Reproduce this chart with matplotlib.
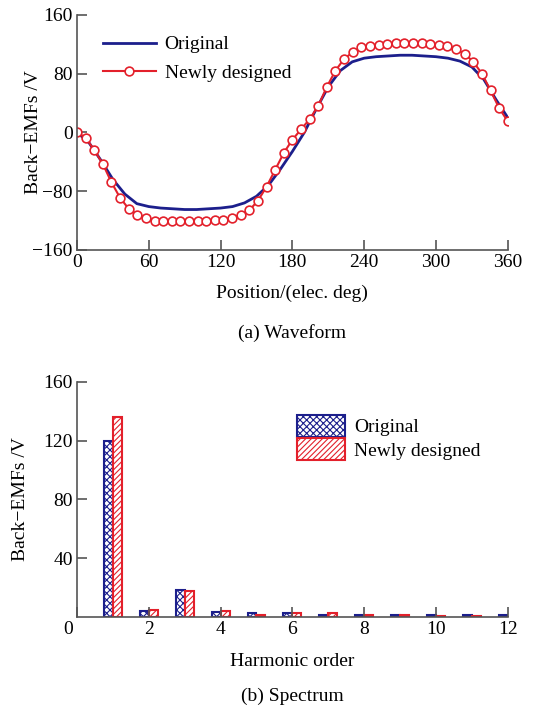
import numpy as np
import matplotlib
matplotlib.use('Agg')
from matplotlib import pyplot as plt
from matplotlib import transforms

plt.rcParams['font.family'] = ['Liberation Serif', 'DejaVu Serif']
plt.rcParams['font.size'] = 14
plt.rcParams['hatch.linewidth'] = 0.8
plt.rcParams['axes.unicode_minus'] = True

navy = '#1c1f8c'
red = '#e3202b'
axis_col = '#555555'

# waveform, original design (smooth line)
orig_pos = [0, 10, 20, 30, 40, 50, 60, 70, 80, 90, 100, 110, 120, 130, 140, 150,
            160, 170, 180, 190, 200, 210, 220, 230, 240, 250, 260, 270, 280, 290,
            300, 310, 320, 330, 340, 350, 360]
orig_emf = [0, -14, -38, -64, -84, -97, -101, -103, -104, -105, -105, -104, -103,
            -101, -96, -87, -72, -50, -26, 0, 32, 62, 84, 96, 101, 103, 104, 105,
            105, 104, 103, 101, 97, 89, 72, 45, 20]

# waveform, newly designed (markers)
new_pos = [0, 7.2, 14.4, 21.6, 28.8, 36, 43.2, 50.4, 57.6, 64.8, 72, 79.2, 86.4,
           93.6, 100.8, 108, 115.2, 122.4, 129.6, 136.8, 144, 151.2, 158.4, 165.6,
           172.8, 180, 187.2, 194.4, 201.6, 208.8, 216, 223.2, 230.4, 237.6, 244.8,
           252, 259.2, 266.4, 273.6, 280.8, 288, 295.2, 302.4, 309.6, 316.8, 324,
           331.2, 338.4, 345.6, 352.8, 360]
new_emf = [0, -7, -24, -43, -68, -89, -104, -112, -117, -120, -120, -120, -120,
           -120, -120, -120, -119, -119, -117, -112, -106, -93, -74, -51, -28, -10,
           4, 18, 36, 62, 84, 100, 109, 116, 117, 119, 120, 121, 121, 121, 121, 120,
           119, 117, 113, 107, 96, 80, 57, 33, 15]

# spectrum
orders = [1, 2, 3, 4, 5, 6, 7, 8, 9, 10, 11, 12]
spec_orig = [120, 4, 18.5, 3.5, 3, 2.5, 1.5, 1.5, 1.2, 1.2, 1.2, 1.5]
spec_new = [136, 5, 17.5, 4, 1.5, 3, 3, 1.5, 1.2, 1, 1, 0]


def style_axes(ax):
    ax.spines['top'].set_visible(False)
    ax.spines['right'].set_visible(False)
    for s in ('left', 'bottom'):
        ax.spines[s].set_color(axis_col)
        ax.spines[s].set_linewidth(1.2)
    ax.tick_params(direction='in', length=7, width=1.2, color=axis_col, pad=3)


fig = plt.figure(figsize=(5.46, 7.06), dpi=100)

# (a) waveform
ax1 = fig.add_axes([0.141, 0.646, 0.789, 0.333])
ax1.plot(orig_pos, orig_emf, color=navy, lw=2.0, label='Original')
ax1.plot(new_pos, new_emf, color=red, lw=1.5, marker='o', ms=6.3, mfc='white',
         mec=red, mew=1.2, label='Newly designed')
ax1.set_xlim(0, 360)
ax1.set_ylim(-160, 160)
ax1.set_xticks(range(0, 361, 60))
ax1.set_yticks(range(-160, 161, 80))
style_axes(ax1)
ax1.set_xlabel('Position/(elec. deg)', labelpad=10)
ax1.set_ylabel('Back\u2212EMFs /V')
ax1.yaxis.set_label_coords(-0.081, 0.5)
ax1.legend(loc='upper left', bbox_to_anchor=(0.02, 0.985), frameon=False,
           handlelength=2.7, handletextpad=0.46, labelspacing=0.55)
fig.text(0.535, 0.528, '(a) Waveform', ha='center', va='center', fontsize=14)

# (b) spectrum
ax2 = fig.add_axes([0.141, 0.126, 0.789, 0.333])
w = 0.25
ax2.bar(np.array(orders) - w, spec_orig, width=w, align='edge', facecolor='white',
        edgecolor=navy, hatch='xxxxx', lw=1.5, label='Original')
ax2.bar(np.array(orders), spec_new, width=w, align='edge', facecolor='white',
        edgecolor=red, hatch='//////', lw=1.5, label='Newly designed')
ax2.set_xlim(0, 12)
ax2.set_ylim(0, 160)
ax2.set_xticks(range(0, 13, 2))
ax2.set_yticks([40, 80, 120, 160])
style_axes(ax2)
ax2.set_xlabel('Harmonic order', labelpad=11)
ax2.set_ylabel('Back\u2212EMFs /V')
ax2.yaxis.set_label_coords(-0.112, 0.5)
ax2.legend(loc='upper left', bbox_to_anchor=(0.469, 0.935), frameon=False,
           handlelength=2.5, handleheight=1.35, handletextpad=0.46, labelspacing=0.1)
fig.canvas.draw()
lbl = ax2.get_xticklabels()[0]
lbl.set_transform(lbl.get_transform() + transforms.ScaledTranslation(-0.09, 0, fig.dpi_scale_trans))
fig.text(0.535, 0.013, '(b) Spectrum', ha='center', va='center', fontsize=14)

fig.savefig('out.png', dpi=100)
